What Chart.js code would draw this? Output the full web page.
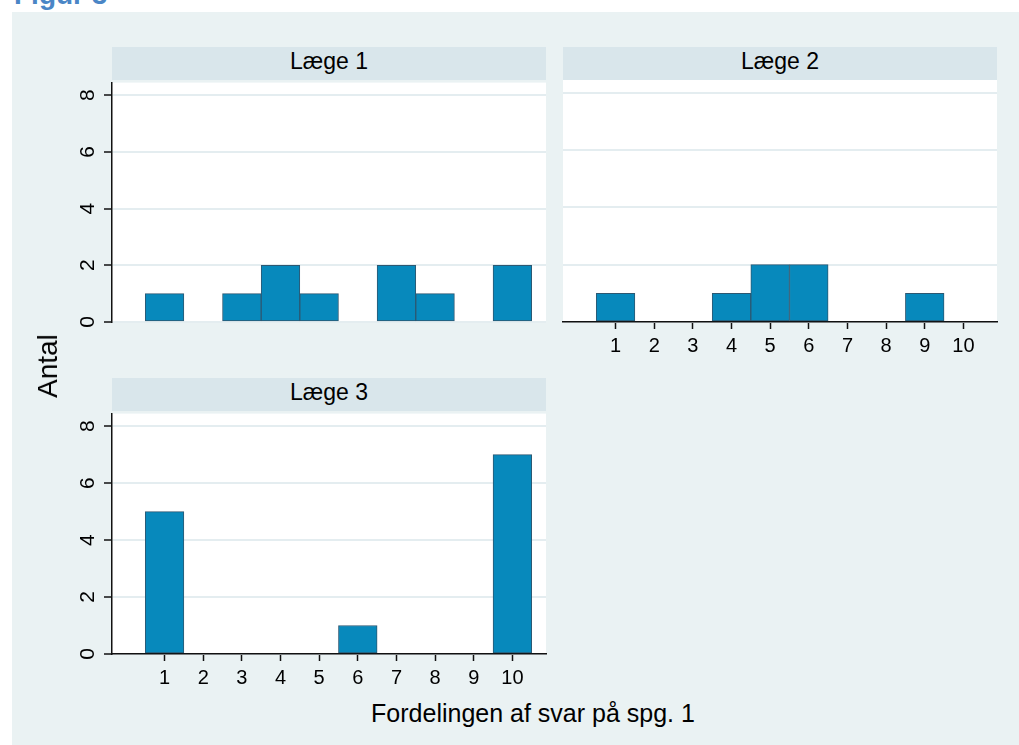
<!DOCTYPE html>
<html lang="da">
<head>
<meta charset="utf-8">
<title>Figur 3</title>
<script src="https://cdn.jsdelivr.net/npm/chart.js@4/dist/chart.umd.min.js"></script>
<style>
  html, body { margin: 0; padding: 0; background: #ffffff; }
  body { width: 1019px; height: 745px; position: relative; overflow: hidden;
         font-family: "Liberation Sans", Arial, Helvetica, sans-serif; }
  .heading { position: absolute; left: 14px; top: -19px; font-size: 28px; line-height: 28px;
             font-weight: bold; color: #4a86c6; white-space: nowrap; }
  .graph { position: absolute; left: 12px; top: 12px; width: 1007px; height: 733px; background: #eaf2f3; }
  .strip { position: absolute; height: 33px; line-height: 28px; background: #d9e6eb;
           text-align: center; font-size: 23px; color: #000; }
  canvas { position: absolute; }
  .ytitle { position: absolute; left: 48px; top: 366px; font-size: 28px; line-height: 30px; color: #000;
            transform: translate(-50%, -50%) rotate(-90deg); white-space: nowrap; }
  .xtitle { position: absolute; left: 233px; top: 698px; width: 600px; text-align: center;
            font-size: 25px; line-height: 30px; color: #000; white-space: nowrap; }
</style>
</head>
<body>
<div class="heading">Figur 3</div>
<div class="graph"></div>

<div class="strip" id="strip1" style="left:112px; top:47px; width:434px;"></div>
<div class="strip" id="strip2" style="left:563px; top:47px; width:434px;"></div>
<div class="strip" id="strip3" style="left:112px; top:378px; width:434px;"></div>

<canvas id="p1" width="516" height="292" style="left:40px; top:60px;"></canvas>
<canvas id="p2" width="474" height="302" style="left:543px; top:60px;"></canvas>
<canvas id="p3" width="516" height="303" style="left:40px; top:391px;"></canvas>

<div class="ytitle" id="ytitle"></div>
<div class="xtitle" id="xtitle"></div>

<script>
// Answer values on question 1 (x) and number of answers per doctor (y)
const categories = [1, 2, 3, 4, 5, 6, 7, 8, 9, 10];
const laege1 = [1, 0, 1, 2, 1, 0, 2, 1, 0, 2];
const laege2 = [1, 0, 0, 1, 2, 2, 0, 0, 1, 0];
const laege3 = [5, 0, 0, 0, 0, 1, 0, 0, 0, 7];
const yTicks = [0, 2, 4, 6, 8];
const panelTitles = ['Læge 1', 'Læge 2', 'Læge 3'];
const yTitle = 'Antal';
const xTitle = 'Fordelingen af svar på spg. 1';

document.getElementById('strip1').textContent = panelTitles[0];
document.getElementById('strip2').textContent = panelTitles[1];
document.getElementById('strip3').textContent = panelTitles[2];
document.getElementById('ytitle').textContent = yTitle;
document.getElementById('xtitle').textContent = xTitle;

const FONT = '"Liberation Sans", Arial, Helvetica, sans-serif';
const BAR_FILL = '#0789bc';
const BAR_EDGE = '#2d5872';
const GRID = '#e4edf0';
const AXIS = '#111111';

// white plot region behind the bars
const plotBackground = {
  id: 'plotBackground',
  beforeDraw(chart) {
    const { ctx, chartArea: a } = chart;
    ctx.save();
    ctx.fillStyle = '#ffffff';
    ctx.fillRect(a.left, a.top, a.right - a.left, a.bottom - a.top);
    ctx.restore();
  }
};

function makePanel(id, values, opts) {
  const points = categories.map((c, i) => ({ x: c, y: values[i] }));
  return new Chart(document.getElementById(id), {
    type: 'bar',
    data: {
      datasets: [{
        data: points,
        backgroundColor: BAR_FILL,
        borderColor: BAR_EDGE,
        borderWidth: 1,
        borderSkipped: false,
        barPercentage: 1,
        categoryPercentage: 1
      }]
    },
    options: {
      responsive: false,
      animation: false,
      devicePixelRatio: 1,
      layout: { padding: opts.padding },
      plugins: { legend: { display: false }, tooltip: { enabled: false } },
      scales: {
        x: {
          type: 'linear',
          min: -0.36,
          max: 10.87,
          offset: false,
          display: opts.showX,
          afterBuildTicks: s => { s.ticks = categories.map(v => ({ value: v })); },
          afterFit: s => { s.height = opts.showX ? 40 : 0; },
          grid: { display: true, offset: false, drawOnChartArea: false, drawTicks: true,
                  tickLength: 7, tickColor: AXIS, tickWidth: 1.5 },
          border: { display: true, color: AXIS, width: 1.5 },
          ticks: { color: '#000', padding: 5, maxRotation: 0, autoSkip: false,
                   font: { family: FONT, size: 20 } }
        },
        y: {
          type: 'linear',
          min: 0,
          max: 8.44,
          afterBuildTicks: s => { s.ticks = yTicks.map(v => ({ value: v })); },
          afterFit: s => { s.width = opts.showY ? 52 : 0; },
          grid: { color: GRID, lineWidth: 2, drawTicks: opts.showY, tickLength: 8,
                  tickColor: AXIS, tickWidth: 1.5 },
          border: { display: opts.showY, color: AXIS, width: 1.5 },
          ticks: { display: opts.showY, color: '#000', minRotation: 90, maxRotation: 90,
                   crossAlign: 'center', padding: 10, font: { family: FONT, size: 21 } }
        }
      }
    },
    plugins: [plotBackground]
  });
}

makePanel('p1', laege1, { showX: false, showY: true, padding: { left: 20, top: 20, right: 10, bottom: 30 } });
makePanel('p2', laege2, { showX: true, showY: false, padding: { left: 20, top: 20, right: 20, bottom: 0 } });
makePanel('p3', laege3, { showX: true, showY: true, padding: { left: 20, top: 20, right: 10, bottom: 0 } });
</script>
</body>
</html>
